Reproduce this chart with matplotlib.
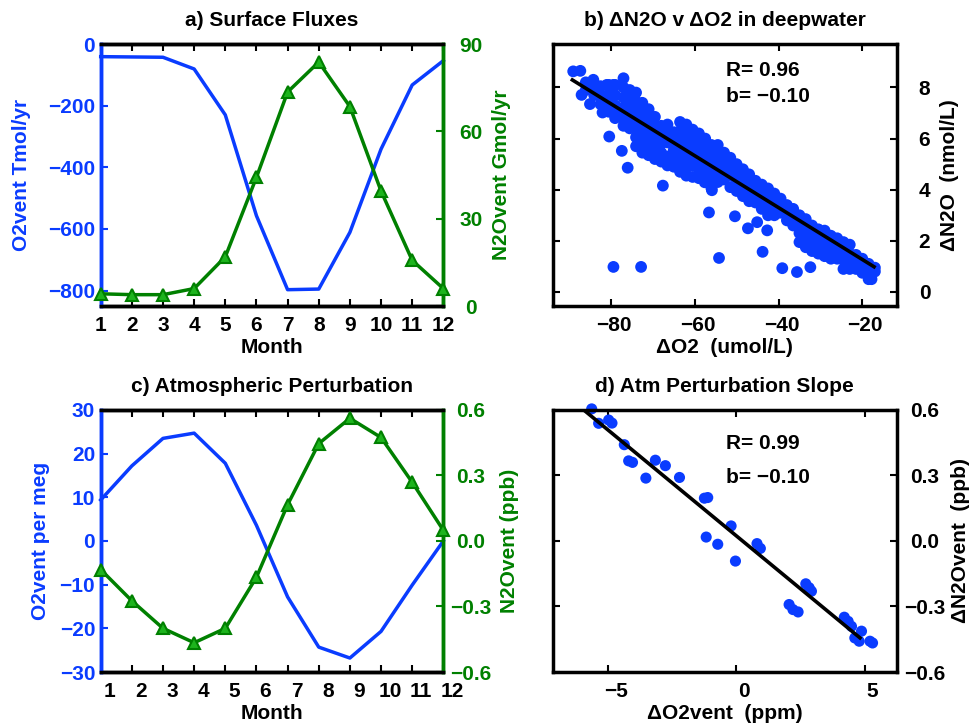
import matplotlib
matplotlib.use('Agg')
import matplotlib.pyplot as plt
import matplotlib.transforms as mtransforms

plt.rcParams['font.family'] = ['Liberation Sans', 'DejaVu Sans']
plt.rcParams['font.weight'] = 'bold'
plt.rcParams['axes.labelweight'] = 'bold'
plt.rcParams['axes.titleweight'] = 'bold'

BLUE = '#0a3cff'
GREEN = '#008000'
GREEN_FACE = '#1db41d'
FS = 15
SPW = 2.5

# ---------------- data ----------------
months = [1, 2, 3, 4, 5, 6, 7, 8, 9, 10, 11, 12]
month_labels = ['1', '2', '3', '4', '5', '6', '7', '8', '9', '10', '11', '12']

# a) Surface fluxes
a_o2vent = [-41, -42, -43, -81, -230, -557, -797, -795, -611, -341, -133, -54]
a_n2ovent = [4.2, 3.9, 3.9, 6.0, 16.9, 44.2, 73.5, 83.8, 68.5, 39.5, 15.7, 6.0]

# c) Atmospheric perturbation
c_o2vent = [9.4, 17.2, 23.5, 24.7, 17.8, 3.6, -12.8, -24.3, -26.8, -20.7, -10.1, 0.0]
c_n2ovent = [-0.131, -0.274, -0.400, -0.466, -0.400, -0.166, 0.166, 0.446, 0.562, 0.474, 0.269, 0.049]

# b) deepwater scatter (dO2 umol/L, dN2O nmol/L)
b_do2 = [
    -89.0, -87.3, -84.2, -87.0, -85.0, -82.0, -80.4, -77.4, -76.0, -79.0, -77.0, -81.0, -79.4,
    -79.4, -72.8, -67.6, -56.6, -54.2, -50.4, -47.3, -45.1, -42.7, -43.8, -39.1, -35.6, -32.4,
    -55.9, -57.6, -17.8,
    -86, -86,
    -84, -84,
    -82.5, -82.5, -82.5,
    -80.5, -80.5, -80.5, -80.5,
    -79, -79, -79, -79,
    -77, -77, -77, -77, -77,
    -75.5, -75.5, -75.5, -75.5, -75.5, -75.5,
    -74, -74, -74, -74, -74, -74, -74,
    -72.5, -72.5, -72.5, -72.5, -72.5, -72.5, -72.5,
    -71, -71, -71, -71, -71, -71,
    -69.5, -69.5, -69.5, -69.5, -69.5, -69.5,
    -68, -68, -68, -68, -68,
    -66.5, -66.5, -66.5, -66.5, -66.5,
    -65, -65, -65, -65, -65,
    -63.5, -63.5, -63.5, -63.5, -63.5, -63.5, -63.5,
    -62, -62, -62, -62, -62, -62, -62,
    -60.5, -60.5, -60.5, -60.5, -60.5, -60.5,
    -59, -59, -59, -59, -59, -59,
    -57.5, -57.5, -57.5, -57.5, -57.5, -57.5,
    -56, -56, -56, -56, -56, -56,
    -54.5, -54.5, -54.5, -54.5, -54.5,
    -53, -53, -53, -53,
    -51.5, -51.5, -51.5, -51.5,
    -50, -50, -50, -50,
    -48.5, -48.5, -48.5, -48.5,
    -47, -47, -47, -47,
    -45.5, -45.5, -45.5, -45.5,
    -44, -44, -44, -44,
    -42.5, -42.5, -42.5, -42.5,
    -41, -41, -41, -41,
    -39.5, -39.5, -39.5,
    -38, -38, -38,
    -36.5, -36.5, -36.5,
    -35, -35, -35, -35,
    -33.5, -33.5, -33.5, -33.5,
    -32, -32, -32, -32,
    -30.5, -30.5, -30.5, -30.5,
    -29, -29, -29, -29,
    -27.5, -27.5, -27.5, -27.5,
    -26, -26, -26, -26,
    -24.5, -24.5, -24.5, -24.5,
    -23, -23, -23, -23,
    -21.5, -21.5, -21.5,
    -20, -20, -20,
    -18.5, -18.5, -18.5,
    -17, -17,
]
b_dn2o = [
    8.63, 8.65, 8.30, 7.71, 7.35, 7.02, 6.08, 5.52, 4.86, 6.80, 8.36, 8.10, 8.10,
    0.98, 0.98, 4.16, 3.11, 1.33, 2.96, 2.49, 2.73, 2.41, 1.57, 0.93, 0.78, 0.97,
    3.98, 4.29, 0.50,
    8.2, 7.9,
    8.0, 7.7,
    8.05, 7.7, 7.35,
    8.1, 7.75, 7.4, 7.05,
    8.1, 7.7, 7.3, 6.95,
    8.0, 7.6, 7.2, 6.8, 6.5,
    7.9, 7.55, 7.2, 6.85, 6.5, 6.4,
    7.8, 7.45, 7.1, 6.75, 6.4, 6.05, 5.7,
    7.4, 7.05, 6.7, 6.35, 6.0, 5.7, 5.45,
    7.15, 6.8, 6.45, 6.1, 5.75, 5.35,
    6.85, 6.5, 6.15, 5.8, 5.5, 5.2,
    6.5, 6.15, 5.8, 5.45, 5.1,
    6.55, 6.2, 5.85, 5.3, 4.95,
    6.25, 5.9, 5.55, 5.2, 4.9,
    6.65, 6.3, 5.95, 5.6, 5.25, 4.95, 4.7,
    6.55, 6.2, 5.85, 5.5, 5.15, 4.85, 4.55,
    6.35, 6.0, 5.65, 5.3, 4.95, 4.5,
    6.2, 5.85, 5.5, 5.15, 4.8, 4.45,
    6.0, 5.65, 5.3, 4.95, 4.6, 4.35,
    5.75, 5.4, 5.05, 4.7, 4.35, 4.05,
    5.75, 5.4, 5.0, 4.6, 4.3,
    5.45, 5.1, 4.75, 4.4,
    5.25, 4.9, 4.55, 4.1,
    5.0, 4.65, 4.3, 3.95,
    4.8, 4.45, 4.1, 3.75,
    4.6, 4.25, 3.9, 3.55,
    4.35, 4.0, 3.65, 3.5,
    4.2, 3.85, 3.5, 3.25,
    4.05, 3.7, 3.35, 3.0,
    3.85, 3.5, 3.15, 3.0,
    3.65, 3.35, 3.1,
    3.4, 3.1, 2.8,
    3.25, 2.9, 2.6,
    3.0, 2.65, 2.3, 1.95,
    2.85, 2.5, 2.15, 1.75,
    2.6, 2.25, 1.9, 1.6,
    2.45, 2.1, 1.8, 1.5,
    2.4, 2.05, 1.7, 1.4,
    2.2, 1.9, 1.6, 1.3,
    2.1, 1.75, 1.4, 1.3,
    1.95, 1.6, 1.25, 0.9,
    1.85, 1.5, 1.15, 0.9,
    1.45, 1.15, 0.9,
    1.3, 1.0, 0.75,
    1.1, 0.8, 0.5,
    0.95, 0.8,
]
b_fit_x = [-89.2, -17.2]
b_fit_slope = -0.1015
b_fit_icpt = -0.76

# d) atmospheric perturbation slope (dO2vent ppm, dN2Ovent ppb)
d_do2 = [-5.63, -5.36, -4.97, -4.84, -4.36, -4.19, -4.04, -3.52, -3.15, -2.76, -2.21,
         -1.24, -1.11, -1.17, -0.72, -0.20, -0.03, 0.81, 0.94, 2.06, 2.21, 2.41,
         2.71, 2.84, 2.93, 4.21, 4.36, 4.49, 4.88, 4.62, 4.79, 5.21, 5.31]
d_dn2o = [0.605, 0.539, 0.554, 0.540, 0.441, 0.367, 0.360, 0.288, 0.370, 0.345, 0.291,
          0.196, 0.199, 0.018, -0.015, 0.069, -0.092, -0.012, -0.034, -0.291, -0.314, -0.325,
          -0.196, -0.214, -0.230, -0.349, -0.368, -0.391, -0.413, -0.444, -0.459, -0.459, -0.467]
d_fit_x = [-5.99, 4.82]
d_fit_slope = -0.097
d_fit_icpt = 0.024

# ---------------- figure ----------------
fig = plt.figure(figsize=(9.72, 7.25), dpi=100)

POS_A = [0.1036, 0.5779, 0.3525, 0.3614]
POS_B = [0.5686, 0.5779, 0.3539, 0.3614]
POS_C = [0.1036, 0.0731, 0.3525, 0.3614]
POS_D = [0.5686, 0.0731, 0.3539, 0.3614]


def shift_xticklabels(ax, px):
    off = mtransforms.ScaledTranslation(px / 100.0, 0, fig.dpi_scale_trans)
    for lab in ax.get_xticklabels():
        lab.set_transform(lab.get_transform() + off)


def title(ax, text):
    ax.set_title(text, fontsize=FS, fontweight='bold', y=1.088, va='center', pad=0)


def xlabel(ax, text):
    ax.set_xlabel(text, fontsize=FS, fontweight='bold')
    ax.xaxis.label.set_va('center')
    ax.xaxis.set_label_coords(0.5, -0.16)


def ylabel(ax, text, xc, color='black'):
    ax.set_ylabel(text, fontsize=FS, fontweight='bold', color=color)
    ax.yaxis.label.set_va('center')
    ax.yaxis.label.set_ha('center')
    ax.yaxis.set_label_coords(xc, 0.5)


def center_right_labels(ax):
    for lab in ax.get_yticklabels():
        lab.set_horizontalalignment('center')


def twin_panel(pos, y1, y2, ylim1, yt1, ytl1, ylim2, yt2, ytl2, lab1, lab2, x1c, x2c, ttl, xshift):
    ax = fig.add_axes(pos)
    ax.plot(months, y1, color=BLUE, lw=2.5, clip_on=False, zorder=3)
    ax.set_xlim(1, 12)
    ax.set_ylim(*ylim1)
    ax.set_xticks(months, month_labels)
    ax.set_yticks(yt1, ytl1)
    ax.tick_params(axis='x', direction='in', top=True, bottom=True, length=5, width=1.5,
                   labelsize=FS, pad=7, colors='black')
    ax.tick_params(axis='y', direction='in', left=True, right=True, length=5, width=1.5,
                   labelsize=FS, pad=4, colors=BLUE)
    ax2 = ax.twinx()
    ax2.plot(months, y2, color=GREEN, lw=2.5, marker='^', ms=9, mfc=GREEN_FACE,
             mec=GREEN, mew=1.5, clip_on=False, zorder=4)
    ax2.set_ylim(*ylim2)
    ax2.set_yticks(yt2, ytl2)
    ax2.tick_params(axis='y', direction='in', right=True, left=False, length=5, width=1.5,
                    labelsize=FS, pad=20, colors=GREEN)
    center_right_labels(ax2)
    for a in (ax, ax2):
        a.spines['left'].set_color(BLUE)
        a.spines['right'].set_color(GREEN)
        a.spines['top'].set_color('black')
        a.spines['bottom'].set_color('black')
        for s in a.spines.values():
            s.set_linewidth(SPW)
    ax.patch.set_visible(True)
    ylabel(ax, lab1, x1c, BLUE)
    ylabel(ax2, lab2, x2c, GREEN)
    xlabel(ax, 'Month')
    title(ax, ttl)
    if xshift:
        shift_xticklabels(ax, xshift)
    return ax, ax2


def scatter_panel(pos, xs, ys, fx, slope, icpt, xlim, ylim, xt, xtl, yt, ytl,
                  xl, yl, ylc, ttl, txt_y, rtxt, btxt, xshift, ms):
    ax = fig.add_axes(pos)
    ax.scatter(xs, ys, s=ms, color=BLUE, edgecolors='none', clip_on=False, zorder=2)
    fy = [icpt + slope * v for v in fx]
    ax.plot(fx, fy, color='black', lw=2.6, zorder=3)
    ax.set_xlim(*xlim)
    ax.set_ylim(*ylim)
    ax.set_xticks(xt, xtl)
    ax.yaxis.tick_right()
    ax.yaxis.set_label_position('right')
    ax.set_yticks(yt, ytl)
    ax.tick_params(axis='x', direction='in', top=True, bottom=True, length=5, width=1.5,
                   labelsize=FS, pad=7)
    ax.tick_params(axis='y', direction='in', left=True, right=True, labelleft=False,
                   labelright=True, length=5, width=1.5, labelsize=FS, pad=20)
    center_right_labels(ax)
    for s in ax.spines.values():
        s.set_linewidth(SPW)
        s.set_color('black')
    ylabel(ax, yl, ylc)
    xlabel(ax, xl)
    title(ax, ttl)
    ax.text(0.504, txt_y[0], rtxt, transform=ax.transAxes, ha='left', va='center',
            fontsize=FS, fontweight='bold')
    ax.text(0.504, txt_y[1], btxt, transform=ax.transAxes, ha='left', va='center',
            fontsize=FS, fontweight='bold')
    if xshift:
        shift_xticklabels(ax, xshift)
    return ax


M = '\u2212'

twin_panel(POS_A, a_o2vent, a_n2ovent, (-850, 0), [-800, -600, -400, -200, 0],
           [M + '800', M + '600', M + '400', M + '200', '0'],
           (0, 90), [0, 30, 60, 90], ['0', '30', '60', '90'],
           'O2vent Tmol/yr', 'N2Ovent Gmol/yr', -0.232, 1.169,
           'a) Surface Fluxes', 0)

twin_panel(POS_C, c_o2vent, c_n2ovent, (-30, 30), [-30, -20, -10, 0, 10, 20, 30],
           [M + '30', M + '20', M + '10', '0', '10', '20', '30'],
           (-0.6, 0.6), [-0.6, -0.3, 0.0, 0.3, 0.6],
           [M + '0.6', M + '0.3', '0.0', '0.3', '0.6'],
           'O2vent per meg', 'N2Ovent (ppb)', -0.177, 1.192,
           'c) Atmospheric Perturbation', 9)

scatter_panel(POS_B, b_do2, b_dn2o, b_fit_x, b_fit_slope, b_fit_icpt,
              (-93.9, -11.8), (-0.55, 9.7), [-80, -60, -40, -20],
              [M + '80', M + '60', M + '40', M + '20'],
              [0, 2, 4, 6, 8], ['0', '2', '4', '6', '8'],
              '\u0394O2  (umol/L)', '\u0394N2O  (nmol/L)', 1.155,
              'b) \u0394N2O v \u0394O2 in deepwater', (0.897, 0.80),
              'R= 0.96', 'b= \u22120.10', 3, 72)

scatter_panel(POS_D, d_do2, d_dn2o, d_fit_x, d_fit_slope, d_fit_icpt,
              (-7.15, 6.25), (-0.6, 0.6), [-5, 0, 5], [M + '5', '0', '5'],
              [-0.6, -0.3, 0.0, 0.3, 0.6], [M + '0.6', M + '0.3', '0.0', '0.3', '0.6'],
              '\u0394O2vent  (ppm)', '\u0394N2Ovent  (ppb)', 1.187,
              'd) Atm Perturbation Slope', (0.871, 0.744),
              'R= 0.99', 'b= \u22120.10', 8, 64)

fig.savefig('out.png', dpi=100)
